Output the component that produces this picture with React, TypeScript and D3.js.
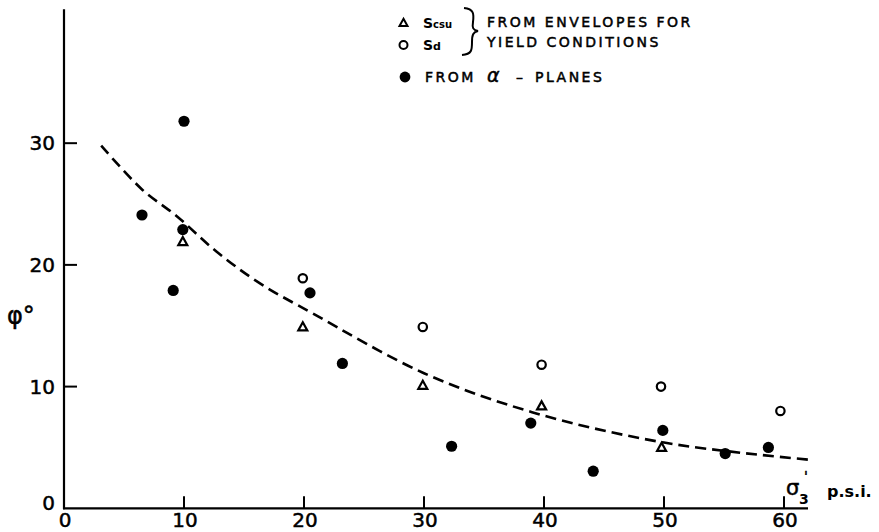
import React from "react";
import * as d3 from "d3";

// sigma3' (psi) vs phi (degrees)
const alphaPlanes: [number, number][] = [
  [6.5, 24.1], [9.1, 17.9], [9.9, 22.9], [10.0, 31.8], [20.5, 17.7], [23.2, 11.9],
  [32.3, 5.1], [38.9, 7.0], [44.1, 3.05], [49.9, 6.4], [55.1, 4.5], [58.7, 5.0],
];
const scsuPoints: [number, number][] = [
  [9.9, 21.9], [19.9, 14.9], [29.9, 10.1], [39.8, 8.4], [49.8, 5.0],
];
const sdPoints: [number, number][] = [
  [19.9, 18.9], [29.9, 14.9], [39.8, 11.8], [49.75, 10.0], [59.7, 8.0],
];
const trendCurve: [number, number][] = [
  [3.1, 29.8], [6.5, 26.2], [9.4, 24.0], [12.7, 21.1], [16.3, 18.5], [20.75, 16.0],
  [30, 11.1], [39, 7.9], [50, 5.4], [62, 4.0],
];
const xTicks = [10, 20, 30, 40, 50, 60];
const xTickLabels = [0, 10, 20, 30, 40, 50, 60];
const yTicks = [10, 20, 30];
const yTickLabels = [0, 10, 20, 30];

const W = 879;
const H = 532;
const FONT = "'DejaVu Sans', sans-serif";

export default function App() {
  const x = d3.scaleLinear().domain([0, 62]).range([64, 808]);
  const y = d3.scaleLinear().domain([0, 41]).range([508.3, 9.3]);

  const line = d3
    .line<[number, number]>()
    .x((d) => x(d[0]))
    .y((d) => y(d[1]))
    .curve(d3.curveCatmullRom.alpha(0.5));

  const tri = (cx: number, cy: number, s = 9) => {
    const h = s * 0.9;
    return `M${cx},${cy - h * 0.58}L${cx + s / 2},${cy + h * 0.42}L${cx - s / 2},${cy + h * 0.42}Z`;
  };

  const bold = { stroke: "#000", strokeWidth: 0.5 };

  return (
    <svg
      width={W}
      height={H}
      style={{ position: "absolute", left: 0, top: 0, background: "#fff" }}
    >
      <rect x={0} y={0} width={W} height={H} fill="#fff" />
      {/* axes */}
      <line x1={x(0)} x2={x(0)} y1={y(0) + 1} y2={y(41)} stroke="#000" strokeWidth={2.2} />
      <line x1={x(0) - 1} x2={x(62)} y1={y(0)} y2={y(0)} stroke="#000" strokeWidth={2.2} />
      {xTicks.map((t) => (
        <line key={"xt" + t} x1={x(t)} x2={x(t)} y1={y(0)} y2={y(0) - 12} stroke="#000" strokeWidth={2} />
      ))}
      {yTicks.map((t) => (
        <line key={"yt" + t} x1={x(0)} x2={x(0) + 13} y1={y(t)} y2={y(t)} stroke="#000" strokeWidth={2} />
      ))}
      {xTickLabels.map((t) => (
        <text key={"xl" + t} x={x(t) + 1} y={527} fontFamily={FONT} fontSize={20} textAnchor="middle" fill="#000" {...bold}>
          {t}
        </text>
      ))}
      {yTickLabels.map((t) => (
        <text
          key={"yl" + t}
          x={55}
          y={y(t) + (t === 0 ? 2 : 7)}
          fontFamily={FONT}
          fontSize={20}
          textAnchor="end"
          fill="#000"
          {...bold}
        >
          {t}
        </text>
      ))}
      {/* axis titles */}
      <text x={7} y={324} fontFamily={FONT} fontSize={24} fill="#000" {...bold}>
        φ°
      </text>
      <text x={786} y={495} fontFamily={FONT} fontSize={21} fill="#000" {...bold}>
        σ
      </text>
      <text x={799} y={504} fontFamily={FONT} fontSize={14} fill="#000" fontWeight="bold">
        3
      </text>
      <text x={804} y={481} fontFamily={FONT} fontSize={14} fill="#000" {...bold}>
        '
      </text>
      <text x={827} y={497} fontFamily={FONT} fontSize={16} fill="#000" fontWeight="bold">
        p.s.i.
      </text>

      {/* trend line */}
      <path d={line(trendCurve) || ""} fill="none" stroke="#000" strokeWidth={2.6} strokeDasharray="11,6" />

      {/* markers */}
      {sdPoints.map((d, i) => (
        <circle key={"sd" + i} cx={x(d[0])} cy={y(d[1])} r={4.2} fill="#fff" stroke="#000" strokeWidth={2.2} />
      ))}
      {scsuPoints.map((d, i) => (
        <path key={"sc" + i} d={tri(x(d[0]), y(d[1]))} fill="#fff" stroke="#000" strokeWidth={2.2} />
      ))}
      {alphaPlanes.map((d, i) => (
        <circle key={"ap" + i} cx={x(d[0])} cy={y(d[1])} r={5.6} fill="#000" />
      ))}

      {/* legend */}
      <path d={tri(403.5, 23, 8)} fill="#fff" stroke="#000" strokeWidth={2} />
      <text x={423} y={28} fontFamily={FONT} fontSize={14} fontWeight="bold" fill="#000">
        S<tspan fontSize={10}>csu</tspan>
      </text>
      <circle cx={403.5} cy={45} r={4} fill="#fff" stroke="#000" strokeWidth={2} />
      <text x={423} y={50} fontFamily={FONT} fontSize={14} fontWeight="bold" fill="#000">
        S<tspan fontSize={11}>d</tspan>
      </text>
      <path
        d="M464,8 C474,9 474,14 473,22 C472,28 473,30 478,31 C473,32 472,35 472,42 C472,50 472,54 462,55"
        fill="none"
        stroke="#000"
        strokeWidth={2}
      />
      <text x={487} y={27} fontFamily={FONT} fontSize={14} letterSpacing={2.5} fill="#000" {...bold}>
        FROM ENVELOPES FOR
      </text>
      <text x={487} y={47} fontFamily={FONT} fontSize={14} letterSpacing={2.5} fill="#000" {...bold}>
        YIELD CONDITIONS
      </text>
      <circle cx={405} cy={77} r={5.4} fill="#000" />
      <text x={425} y={82} fontFamily={FONT} fontSize={14} letterSpacing={2.5} fill="#000" {...bold}>
        FROM
      </text>
      <text x={487} y={82} fontFamily={FONT} fontSize={19} fontStyle="italic" fill="#000" {...bold}>
        α
      </text>
      <text x={516} y={82} fontFamily={FONT} fontSize={14} fill="#000" {...bold}>
        –
      </text>
      <text x={535} y={82} fontFamily={FONT} fontSize={14} letterSpacing={2.5} fill="#000" {...bold}>
        PLANES
      </text>
    </svg>
  );
}
